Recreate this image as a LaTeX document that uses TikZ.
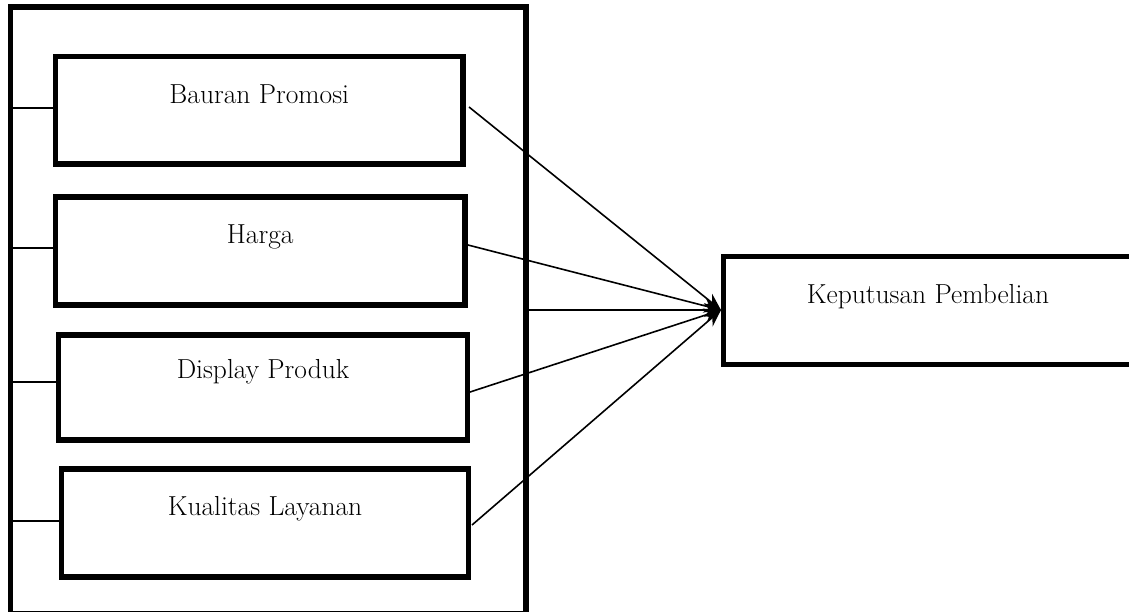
\documentclass[tikz,border=0pt]{standalone}
\usetikzlibrary{arrows.meta}
\begin{document}
\begin{tikzpicture}[x=1pt,y=-1pt,
  box/.style={draw, line width=5.5pt, rectangle, anchor=north west, inner sep=0pt, outer sep=0pt},
  lbl/.style={anchor=base, inner sep=0pt, font=\fontsize{27.5}{32}\selectfont},
  stub/.style={line width=1.4pt},
  conn/.style={line width=1.6pt, -{Stealth[length=17pt,width=14pt]}}]
\useasboundingbox (0,0) rectangle (1129,611);
% outer frame
\node[box, minimum width=515.5pt, minimum height=607pt] (outer) at (10.5,7) {};
% inner boxes
\node[box, minimum width=407.5pt, minimum height=107.5pt] (b1) at (55.5,56.5) {};
\node[box, minimum width=409.5pt, minimum height=108pt] (b2) at (55.5,197) {};
\node[box, minimum width=409pt, minimum height=105pt] (b3) at (58.5,335) {};
\node[box, minimum width=407pt, minimum height=108pt] (b4) at (61.5,469) {};
% right box
\node[box, minimum width=410pt, minimum height=108pt] (k) at (723.5,256.5) {};
% labels
\node[lbl] (t1) at ([yshift=-47pt]b1.north) {Bauran Promosi};
\node[lbl] (t2) at ([yshift=-46pt]b2.north) {Harga};
\node[lbl] (t3) at ([yshift=-43pt]b3.north) {Display Produk};
\node[lbl] (t4) at ([yshift=-46pt]b4.north) {Kualitas Layanan};
\node[lbl] (t5) at (928,303) {Keputusan Pembelian};
% stubs
\draw[stub] (outer.west |- 0,108) -- (b1.west |- 0,108);
\draw[stub] (outer.west |- 0,248) -- (b2.west |- 0,248);
\draw[stub] (outer.west |- 0,382) -- (b3.west |- 0,382);
\draw[stub] (outer.west |- 0,521) -- (b4.west |- 0,521);
% connectors
\coordinate (tip) at (721,310);
\coordinate (s1) at (469,107);
\coordinate (s2) at (468,245);
\coordinate (s3) at (470,392);
\coordinate (s4) at (472,525);
\draw[conn] (s1) -- (tip);
\draw[conn] (s2) -- (tip);
\draw[conn] (outer.east |- tip) -- (tip);
\draw[conn] (s3) -- (tip);
\draw[conn] (s4) -- (tip);
\end{tikzpicture}
\end{document}
